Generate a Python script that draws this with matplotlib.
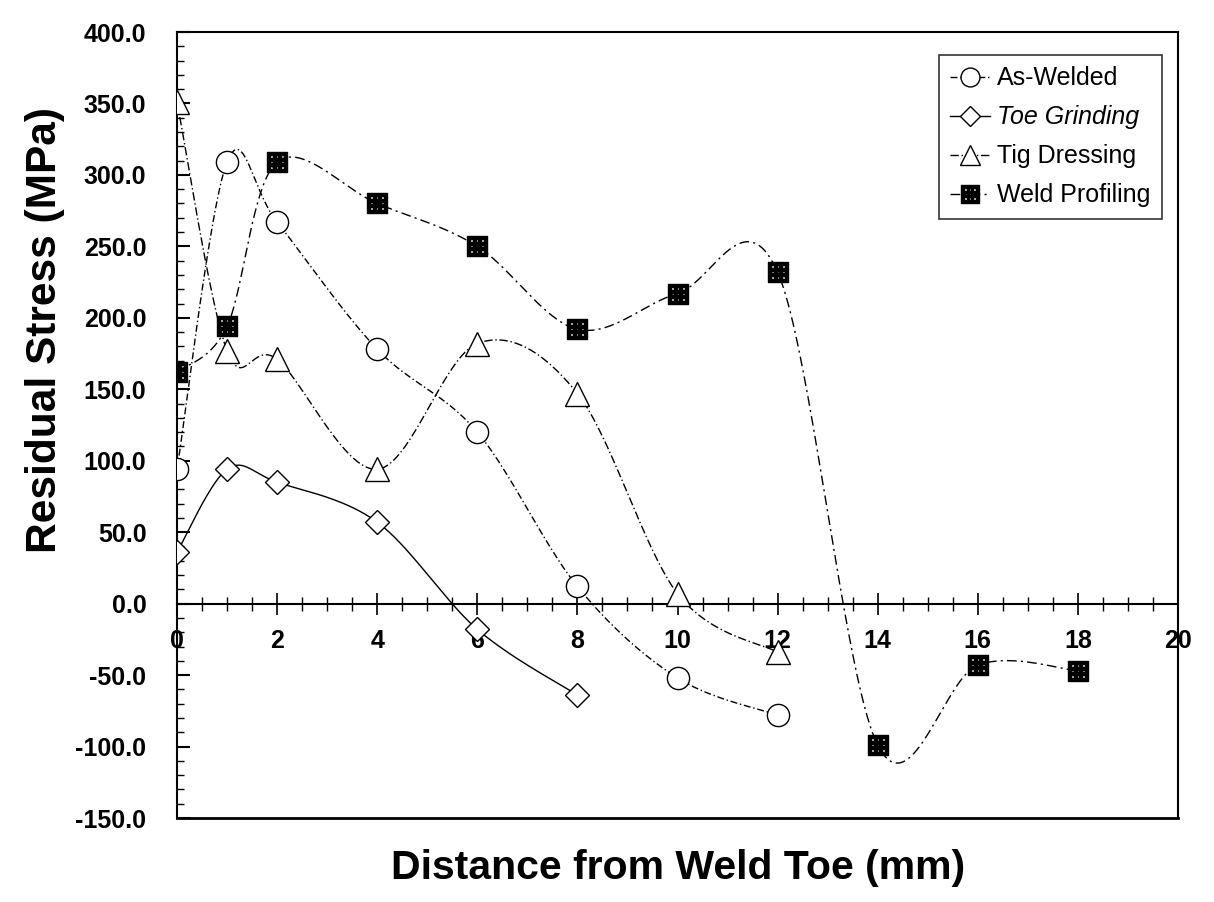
import numpy as np
import matplotlib
matplotlib.use("Agg")
import matplotlib.pyplot as plt
from matplotlib.path import Path
from matplotlib.lines import Line2D

plt.rcParams['font.family'] = ['Liberation Sans', 'DejaVu Sans']

# ---- data ----
x_as_welded = [0, 1, 2, 4, 6, 8, 10, 12]
y_as_welded = [94, 309, 267, 178, 120, 12, -52, -78]

x_toe = [0, 1, 2, 4, 6, 8]
y_toe = [36, 94, 85, 57, -18, -64]

x_tig = [0, 1, 2, 4, 6, 8, 10, 12]
y_tig = [351, 177, 171, 94, 182, 147, 7, -34]

x_weld = [0, 1, 2, 4, 6, 8, 10, 12, 14, 16, 18]
y_weld = [162, 194, 309, 280, 250, 192, 217, 232, -99, -43, -47]

series_names = ["As-Welded", "Toe Grinding", "Tig Dressing", "Weld Profiling"]
x_ticks = [0, 2, 4, 6, 8, 10, 12, 14, 16, 18, 20]
y_ticks = [-150, -100, -50, 0, 50, 100, 150, 200, 250, 300, 350, 400]


def smooth(xs, ys, n=40):
    """Excel-like smoothed line (Catmull-Rom Bezier)."""
    P = np.column_stack([xs, ys]).astype(float)
    out = [P[0]]
    m = len(P)
    for i in range(m - 1):
        p0 = P[i - 1] if i > 0 else P[i]
        p1 = P[i]
        p2 = P[i + 1]
        p3 = P[i + 2] if i + 2 < m else P[i + 1]
        c1 = p1 + (p2 - p0) / 6.0
        c2 = p2 - (p3 - p1) / 6.0
        t = np.linspace(0, 1, n)[1:, None]
        seg = ((1 - t) ** 3) * p1 + 3 * ((1 - t) ** 2) * t * c1 + 3 * (1 - t) * t ** 2 * c2 + t ** 3 * p2
        out.extend(seg)
    out = np.array(out)
    return out[:, 0], out[:, 1]


# hatched square marker: black square with a grid of white holes
def hatched_square():
    verts, codes = [], []
    def sq(cx, cy, h, ccw=True):
        pts = [(cx - h, cy - h), (cx + h, cy - h), (cx + h, cy + h), (cx - h, cy + h)]
        if not ccw:
            pts = pts[::-1]
        verts.extend(pts + [pts[0]])
        codes.extend([Path.MOVETO, Path.LINETO, Path.LINETO, Path.LINETO, Path.CLOSEPOLY])
    sq(0, 0, 0.5, True)
    for cx in (-0.25, 0.0, 0.25):
        for cy in (-0.25, 0.0, 0.25):
            sq(cx, cy, 0.07, False)
    return Path(verts, codes)

HSQ = hatched_square()

fig = plt.figure(figsize=(12.14, 9.02), dpi=100)
ax = fig.add_axes([177 / 1214, 1 - 818 / 902, (1178 - 177) / 1214, (818 - 32) / 902])

styles = [
    dict(ls=(0, (5, 2, 1, 2)), marker='o', ms=16, mfc='white'),
    dict(ls='-', marker='D', ms=12, mfc='white'),
    dict(ls=(0, (6, 2, 1, 2)), marker='^', ms=17, mfc='white'),
    dict(ls=(0, (7, 3, 1.5, 3)), marker=HSQ, ms=15, mfc='black'),
]
data = [(x_as_welded, y_as_welded), (x_toe, y_toe), (x_tig, y_tig), (x_weld, y_weld)]

handles = []
for (xs, ys), st in zip(data, styles):
    sx, sy = smooth(xs, ys)
    ax.plot(sx, sy, color='black', lw=1.0, ls=st['ls'], zorder=2)
    ax.plot(xs, ys, ls='none', marker=st['marker'], ms=st['ms'], mfc=st['mfc'],
            mec='black', mew=1.0, zorder=3)
    handles.append(Line2D([], [], color='black', lw=1.0, ls=st['ls'], marker=st['marker'],
                          ms=st['ms'] * 0.85, mfc=st['mfc'], mec='black', mew=1.0))

ax.set_xlim(0, 20)
ax.set_ylim(-150, 400)

# x axis crossing at zero, frame kept
ax.spines['bottom'].set_position(('data', 0))
ax.spines['bottom'].set_linewidth(1.5)
for s in ('left', 'right', 'top'):
    ax.spines[s].set_linewidth(1.5)
ax.plot([0, 1], [0, 0], transform=ax.transAxes, color='black', lw=2.0, clip_on=False, zorder=5)

ax.set_xticks(x_ticks)
ax.set_xticks(np.arange(0, 20.01, 0.5), minor=True)
ax.set_yticks(y_ticks)
ax.set_yticks(np.arange(-150, 400.01, 10), minor=True)
ax.set_yticklabels([f"{v:.1f}" for v in y_ticks])
ax.set_xticklabels([str(v) for v in x_ticks])

ax.tick_params(axis='x', which='major', direction='inout', length=16, width=1.2,
               labelsize=18, pad=10)
ax.tick_params(axis='x', which='minor', direction='inout', length=10, width=1.0)
ax.tick_params(axis='y', which='major', direction='in', length=9, width=1.5,
               labelsize=18, pad=22)
ax.tick_params(axis='y', which='minor', direction='in', length=5, width=1.0)
for lab in ax.get_xticklabels() + ax.get_yticklabels():
    lab.set_fontweight('bold')

fig.text(45 / 1214, 1 - 330 / 902, "Residual Stress (MPa)", rotation=90, fontsize=30.5,
         fontweight='bold', ha='center', va='center')
fig.text(678 / 1214, 1 - 868 / 902, "Distance from Weld Toe (mm)", fontsize=29.5,
         fontweight='bold', ha='center', va='center')

leg = ax.legend(handles, series_names, loc='upper right',
                bbox_to_anchor=(1162 / 1214, 1 - 55 / 902), bbox_transform=fig.transFigure,
                fontsize=18, frameon=True, fancybox=False, edgecolor='black',
                borderaxespad=0, handlelength=1.6, handletextpad=0.3, labelspacing=0.6,
                borderpad=0.45)
leg.get_frame().set_linewidth(1.2)
leg.get_texts()[1].set_style('italic')

fig.savefig("out.png", dpi=100)
